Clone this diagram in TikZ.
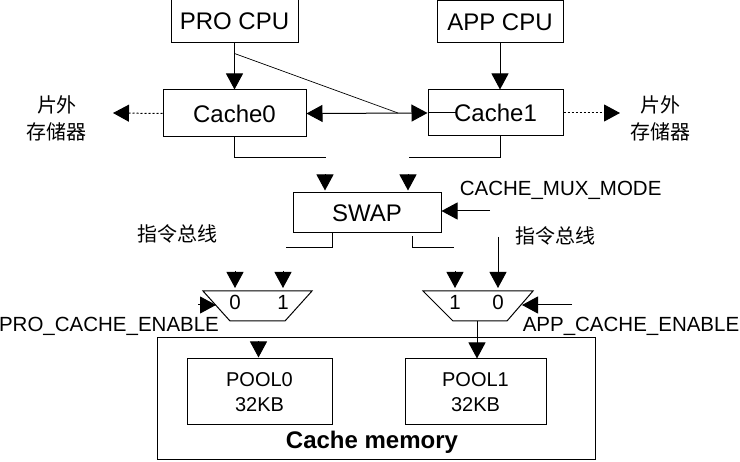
\documentclass[tikz,border=0pt]{standalone}
\usepackage{fontspec}
\setmainfont{Liberation Sans}
\newfontfamily\cjk{Noto Sans CJK SC}
\usepackage{tikz}
\usetikzlibrary{calc,arrows.meta,positioning}

\begin{document}
\begin{tikzpicture}[x=1pt,y=-1pt,>={Triangle[length=16pt,width=17pt]},line width=1pt,
  box/.style={draw,inner sep=0pt,font=\fontsize{24}{26}\selectfont},
  pool/.style={draw,inner sep=0pt,minimum width=143,minimum height=66,align=center,font=\fontsize{20}{25}\selectfont},
  sig/.style={font=\fontsize{20.5}{22}\selectfont},
  hz/.style={font=\cjk\fontsize{20}{27}\selectfont,align=center}]
  \useasboundingbox (0,0) rectangle (740,462);

  % --- CPUs and caches ---
  \node[box,minimum width=127,minimum height=43] (pro) at (234.5,21.5) {PRO CPU};
  \node[box,minimum width=126,minimum height=42] (app) at (500,22) {APP CPU};
  \node[box,minimum width=143,minimum height=47] (cache0) at (234.5,113.5) {Cache0};
  \node[box,minimum width=135,minimum height=46] (cache1) at (495.5,113) {Cache1};
  \draw[->] (pro.south) -- (cache0.north);
  \draw[->] (app.south) -- (app.south |- cache1.north);
  \coordinate (cross) at (398,113);
  \draw[line width=0.7pt] ($(pro.south)+(0,10)$) -- (cross);
  \draw[<->] (cache0.east) -- (cache1.west);
  \draw (cache1.west) -- ($(cache1.west)+(29,0)$);

  % --- external memory ---
  \node[hz] (ext0) at (57,118) {片外\\存储器};
  \node[hz] (ext1) at (660,118) {片外\\存储器};
  \draw[->,dash pattern=on 2pt off 2pt] (cache0.west) -- (113,113);
  \draw[->,dash pattern=on 2pt off 2pt] (cache1.east) -- (620,113);

  % --- SWAP ---
  \node[box,minimum width=148,minimum height=40] (swap) at (367,213) {SWAP};
  \draw (cache0.south) |- (326,158);
  \draw (app.south |- cache1.south) |- (409,158);
  \draw[->] ($(swap.north)+(-42,-18)$) -- ($(swap.north)+(-42,-2)$);
  \draw[->] ($(swap.north)+(41,-18)$) -- ($(swap.north)+(41,-2)$);
  \node[sig,anchor=west] (mux) at (456,190) {CACHE\_MUX\_MODE};
  \coordinate (muxin) at (490,211);
  \draw[->] (muxin) -- (muxin -| swap.east);
  \draw ($(swap.south)+(-35,0)$) |- (286,248);
  \draw ($(swap.south)+(45,3)$) |- (454,248);
  \node[hz] (bus0) at (177,234) {指令总线};
  \node[hz] (bus1) at (555,236) {指令总线};

  % --- left mux ---
  \draw (203,291) -- (312,291) -- (285,321) -- (230,321) -- cycle;
  \node[sig] (l0) at (235,302) {0};
  \node[sig] (l1) at (283,302) {1};
  \draw[->] (235,271) -- (235,288);
  \draw[->] (283,271) -- (283,288);
  \draw[->] (198,305) -- (216,305);
  \node[sig] (proen) at (109,326) {PRO\_CACHE\_ENABLE};

  % --- right mux ---
  \draw (423,291) -- (533,291) -- (507,321) -- (453,321) -- cycle;
  \node[sig] (r1) at (455,302) {1};
  \node[sig] (r0) at (498,302) {0};
  \draw[->] (455,271) -- (455,288);
  \draw[->] (498,237) -- (498,288);
  \draw[->] (572,305) -- (522,305);
  \node[sig] (appen) at (631,326) {APP\_CACHE\_ENABLE};

  % --- Cache memory ---
  \node[draw,minimum width=438,minimum height=122] (mem) at (376,399) {};
  \node[pool,minimum width=145] (pool0) at (259.5,392) {POOL0\\32KB};
  \node[pool,minimum width=141] (pool1) at (475.5,392) {POOL1\\32KB};
  \node[font=\bfseries\fontsize{24}{26}\selectfont] (memlbl) at (372,442) {Cache memory};
  \coordinate (muxout) at (477,321);
  \draw[->] ($(pool0.north)+(-1,-17)$) -- ($(pool0.north)+(-1,-1)$);
  \draw[->] (muxout) -- (muxout |- pool1.north);
\end{tikzpicture}
\end{document}
